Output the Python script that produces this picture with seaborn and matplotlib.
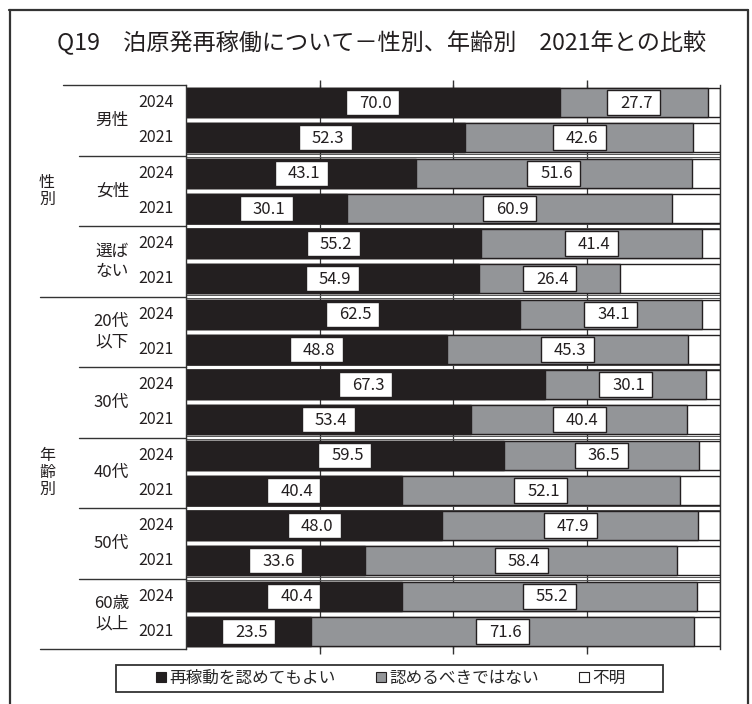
import numpy as np
import pandas as pd
import matplotlib
matplotlib.use("Agg")
import matplotlib.pyplot as plt
import matplotlib.transforms as mtransforms
from matplotlib.patches import Rectangle, Patch
from matplotlib.lines import Line2D
import seaborn as sns

# ---------------- data ----------------
group_names = ["性別", "年齢別"]
group_sizes = [3, 5]          # number of subgroups per group
subgroups = ["男性", "女性", "選ば\nない", "20代\n以下", "30代", "40代", "50代", "60歳\n以上"]
years = ["2024", "2021"]
approve = [70.0, 52.3, 43.1, 30.1, 55.2, 54.9, 62.5, 48.8,
           67.3, 53.4, 59.5, 40.4, 48.0, 33.6, 40.4, 23.5]
oppose = [27.7, 42.6, 51.6, 60.9, 41.4, 26.4, 34.1, 45.3,
          30.1, 40.4, 36.5, 52.1, 47.9, 58.4, 55.2, 71.6]
unknown = [2.3, 5.1, 5.3, 9.0, 3.4, 18.7, 3.4, 5.9,
           2.6, 6.2, 4.0, 7.5, 4.1, 8.0, 4.4, 4.9]
legend_labels = ["再稼動を認めてもよい", "認めるべきではない", "不明"]
title = "Q19　泊原発再稼働について－性別、年齢別　2021年との比較"

# ---------------- style ----------------
sns.set_style("white")
plt.rcParams["font.family"] = ["Noto Sans CJK JP", "DejaVu Sans"]

BLACK = "#231f20"
GRAY = "#939598"
LINE = "#333333"

W, H = 752, 704
fig = plt.figure(figsize=(W / 100, H / 100), dpi=100)

def fx(px):
    return px / W

def fy(py):
    return 1 - py / H

ax_left, ax_right, ax_top, ax_bottom = 186, 720, 85, 649
ax = fig.add_axes([fx(ax_left), fy(ax_bottom), fx(ax_right - ax_left), (ax_bottom - ax_top) / H])

rows = [f"{s}|{y}" for s in subgroups for y in years]
df = pd.DataFrame({
    "row": rows,
    "approve": approve,
    "oppose": oppose,
    "unknown": unknown,
})
df["cum2"] = df["approve"] + df["oppose"]
df["cum3"] = df["cum2"] + df["unknown"]

bw = 0.82
sns.barplot(data=df, x="cum3", y="row", order=rows, orient="h", color="white",
            edgecolor=BLACK, linewidth=1.0, width=bw, saturation=1, ax=ax, zorder=2)
sns.barplot(data=df, x="cum2", y="row", order=rows, orient="h", color=GRAY,
            edgecolor=BLACK, linewidth=1.0, width=bw, saturation=1, ax=ax, zorder=2)
sns.barplot(data=df, x="approve", y="row", order=rows, orient="h", color=BLACK,
            edgecolor=BLACK, linewidth=1.0, width=bw, saturation=1, ax=ax, zorder=2)

n = len(rows)
ax.set_xlim(0, 100)
ax.set_ylim(n - 0.5, -0.5)
ax.set_xlabel("")
ax.set_ylabel("")
ax.set_yticks([])
ax.set_xticks([25, 50, 75])
ax.tick_params(axis="x", top=True, bottom=True, direction="inout", length=7,
               width=1, color=LINE, labelbottom=False, labeltop=False)
for side in ["top", "bottom"]:
    ax.spines[side].set_visible(False)
for side in ["left", "right"]:
    ax.spines[side].set_visible(True)
    ax.spines[side].set_color(LINE)
    ax.spines[side].set_linewidth(1.0)

# vertical grid lines behind bars
for gx in [25, 50, 75]:
    ax.axvline(gx, color=LINE, lw=0.9, zorder=0.5)

# boundaries between subgroups (double thin lines across bar area)
bounds = [2 * i - 0.5 for i in range(1, len(subgroups))]
for b in bounds:
    for off in (-0.05, 0.05):
        ax.plot([0, 100], [b + off, b + off], color="#555555", lw=0.7, zorder=1)

# value label boxes
box_w = 53 / (ax_right - ax_left) * 100
box_h = 25 / ((ax_bottom - ax_top) / n)
for i, r in df.iterrows():
    for val, center in [(r["approve"], r["approve"] / 2),
                        (r["oppose"], r["approve"] + r["oppose"] / 2)]:
        ax.add_patch(Rectangle((center - box_w / 2, i - box_h / 2), box_w, box_h,
                               facecolor="white", edgecolor=BLACK, lw=1.0, zorder=4))
        ax.text(center + 0.5, i + 0.02, f"{val:.1f}", ha="center", va="center",
                fontsize=12, color=BLACK, zorder=5)

# ---------------- label table on the left ----------------
blend = mtransforms.blended_transform_factory(ax.transAxes, ax.transData)

def axfrac(px):
    return (px - ax_left) / (ax_right - ax_left)

for i, r in enumerate(rows):
    ax.text(axfrac(156), i, r.split("|")[1], transform=blend, ha="center",
            va="center", fontsize=11.5, color=BLACK)

for k, s in enumerate(subgroups):
    yc = 2 * k + 0.5
    ax.text(axfrac(129), yc, s, transform=blend, ha="right", va="center",
            fontsize=12, color=BLACK, multialignment="right", linespacing=1.25)

start = 0
for g, size in zip(group_names, group_sizes):
    yc = start + size - 0.5
    ax.text(axfrac(47), yc, "\n".join(g), transform=blend, ha="center",
            va="center", fontsize=11.5, color=BLACK, linespacing=1.0)
    start += 2 * size

def hline(x0, x1, y):
    ax.plot([axfrac(x0), axfrac(x1)], [y, y], transform=blend, color=LINE,
            lw=1.0, clip_on=False, zorder=3)

hline(63, ax_left, -0.5)
hline(40, ax_left, n - 0.5)
group_bound = 2 * group_sizes[0] - 0.5
for b in bounds:
    if abs(b - group_bound) < 1e-9:
        hline(40, ax_left, b)
    else:
        hline(79, ax_left, b)

# ---------------- title ----------------
fig.text(fx(381.5), fy(43), title, ha="center", va="center", fontsize=16.7, color=BLACK)

# ---------------- legend ----------------
fig.add_artist(Rectangle((fx(116), fy(692)), fx(663 - 116), (692 - 665) / H,
                         transform=fig.transFigure, facecolor="white",
                         edgecolor=LINE, lw=1.3))
handles = [Patch(facecolor=BLACK, edgecolor=BLACK, lw=0.8),
           Patch(facecolor=GRAY, edgecolor=BLACK, lw=0.8),
           Patch(facecolor="white", edgecolor=BLACK, lw=0.8)]
fig.legend(handles, legend_labels, loc="center", bbox_to_anchor=(fx(391), fy(678.5)),
           ncol=3, frameon=False, fontsize=12, handlelength=0.6, handleheight=0.6,
           handletextpad=0.2, columnspacing=2.4, borderpad=0, borderaxespad=0)

# ---------------- outer frame ----------------
for xs, ys in [([9, 748], [9.5, 9.5]), ([9.5, 9.5], [9.5, 710]), ([748, 748], [9.5, 710])]:
    fig.add_artist(Line2D([fx(x) for x in xs], [fy(y) for y in ys],
                          transform=fig.transFigure, color=LINE, lw=1.6))

fig.savefig("out.png", dpi=100)
